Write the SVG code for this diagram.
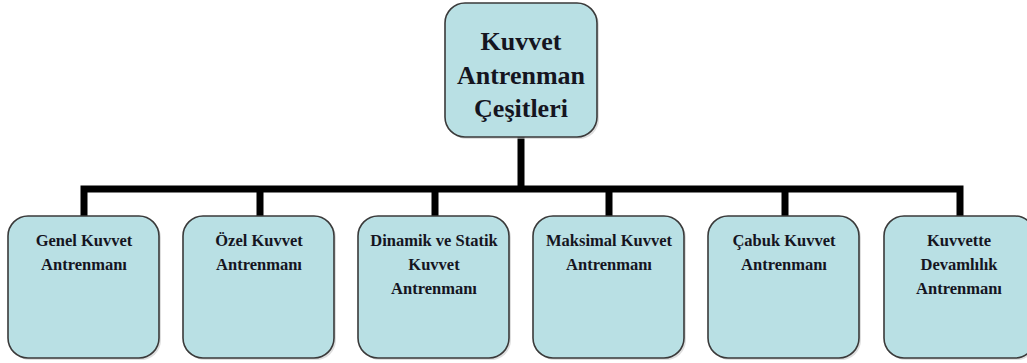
<svg xmlns="http://www.w3.org/2000/svg" width="1027" height="363" viewBox="0 0 1027 363">
<style>
.box{fill:#b9e0e4;stroke:#3a3a3a;stroke-width:1.6}
.sh{fill:#c8c8c8;opacity:0.6}
.conn{stroke:#000;stroke-width:7;fill:none}
.t{font-family:"Liberation Serif","Times New Roman",serif;font-weight:bold;fill:#15151f;text-anchor:middle}
.top{font-size:26px}
.sm{font-size:16.5px}
</style>
<rect width="1027" height="363" fill="#fff"/>
<g id="connectors">
<path class="conn" d="M521 137V189M80.5 189H963.5M84 189V216M260 189V216M435 189V216M609 189V216M785 189V216M960 189V216"/>
</g>
<g id="top">
<rect class="sh" x="447" y="5" width="152" height="134" rx="20"/>
<rect class="box" x="445" y="3" width="152" height="134" rx="20"/>
<text class="t top" x="521" y="50">Kuvvet</text>
<text class="t top" x="521" y="84">Antrenman</text>
<text class="t top" x="521" y="117">Çeşitleri</text>
</g>
<g id="n1">
<rect class="sh" x="10" y="218" width="151" height="142" rx="20"/>
<rect class="box" x="8" y="216" width="151" height="142" rx="20"/>
<text class="t sm" x="84" y="246">Genel Kuvvet</text>
<text class="t sm" x="84" y="270">Antrenmanı</text>
</g>
<g id="n2">
<rect class="sh" x="185" y="218" width="151" height="142" rx="20"/>
<rect class="box" x="183" y="216" width="151" height="142" rx="20"/>
<text class="t sm" x="259" y="246">Özel Kuvvet</text>
<text class="t sm" x="259" y="270">Antrenmanı</text>
</g>
<g id="n3">
<rect class="sh" x="360" y="218" width="151" height="142" rx="20"/>
<rect class="box" x="358" y="216" width="151" height="142" rx="20"/>
<text class="t sm" x="434" y="246">Dinamik ve Statik</text>
<text class="t sm" x="434" y="270">Kuvvet</text>
<text class="t sm" x="434" y="294">Antrenmanı</text>
</g>
<g id="n4">
<rect class="sh" x="535" y="218" width="151" height="142" rx="20"/>
<rect class="box" x="533" y="216" width="151" height="142" rx="20"/>
<text class="t sm" x="609" y="246">Maksimal Kuvvet</text>
<text class="t sm" x="609" y="270">Antrenmanı</text>
</g>
<g id="n5">
<rect class="sh" x="710" y="218" width="151" height="142" rx="20"/>
<rect class="box" x="708" y="216" width="151" height="142" rx="20"/>
<text class="t sm" x="784" y="246">Çabuk Kuvvet</text>
<text class="t sm" x="784" y="270">Antrenmanı</text>
</g>
<g id="n6">
<rect class="sh" x="886" y="218" width="151" height="142" rx="20"/>
<rect class="box" x="884" y="216" width="151" height="142" rx="20"/>
<text class="t sm" x="959" y="246">Kuvvette</text>
<text class="t sm" x="959" y="270">Devamlılık</text>
<text class="t sm" x="959" y="294">Antrenmanı</text>
</g>
</svg>
